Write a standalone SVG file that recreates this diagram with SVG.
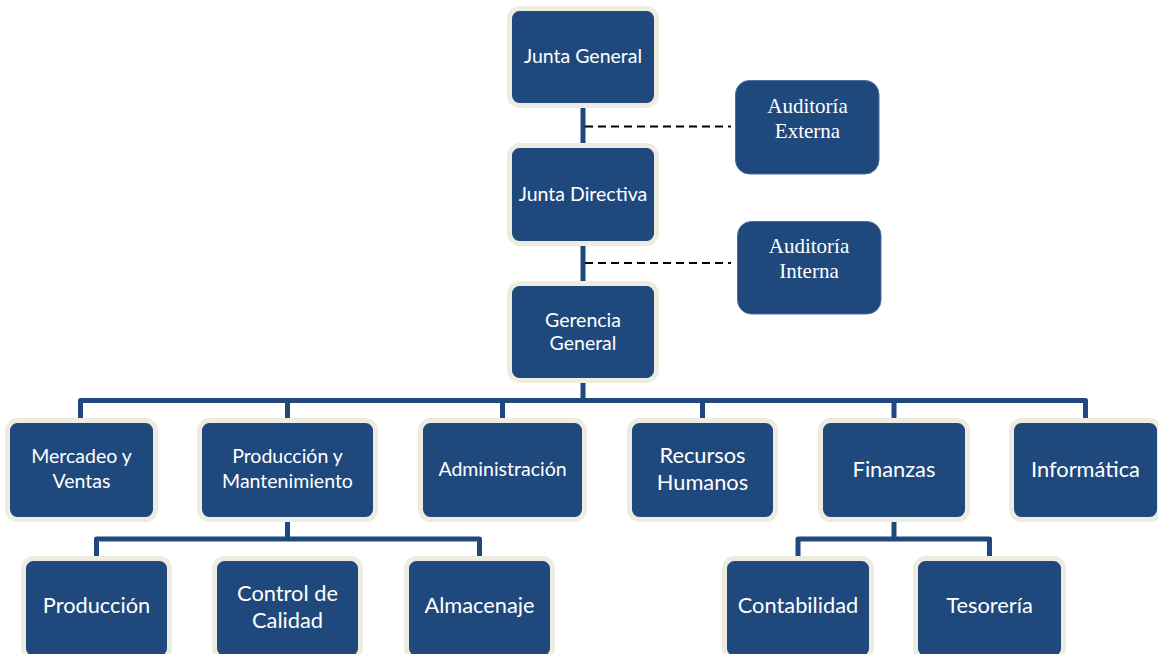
<svg xmlns="http://www.w3.org/2000/svg" width="1158" height="654" viewBox="0 0 1158 654">
<style>
.box{fill:#1F497D;stroke:#EEECE1;stroke-width:5}
.aud{fill:#1F497D;stroke:#4A6E9A;stroke-width:1}
.t{font-family:Lato,"Open Sans",sans-serif;fill:#FFFFFF;text-anchor:middle;font-size:19.5px}
.tl{font-size:21.8px}
.ts{font-family:"Liberation Serif","Times New Roman",serif;fill:#FFFFFF;text-anchor:middle;font-size:21px}
.c{fill:none;stroke:#1F497D;stroke-width:5;stroke-linejoin:round}
.d{fill:none;stroke:#000000;stroke-width:2;stroke-dasharray:8 5}
</style>
<rect width="1158" height="654" fill="#FFFFFF"/>
<g id="connectors">
<path class="c" d="M583,100 V150"/>
<path class="c" d="M583,238 V290"/>
<path class="c" d="M583,378 V401"/>
<path class="c" d="M80.5,420 V400.5 H1085.5 V420"/>
<path class="c" d="M287.5,400.5 V420 M502.5,400.5 V420 M702.5,400.5 V420 M894,400.5 V420"/>
<path class="c" d="M287.5,515 V539"/>
<path class="c" d="M96.5,559 V539 H479.5 V559"/>
<path class="c" d="M894,515 V539"/>
<path class="c" d="M798,559 V539 H989.5 V559"/>
<path class="d" d="M585,126.5 H731"/>
<path class="d" d="M585,263 H731"/>
</g>
<g id="junta-general">
<rect class="box" x="509.5" y="8.5" width="147" height="97" rx="10"/>
<text class="t" x="583" y="63">Junta General</text>
</g>
<g id="auditoria-externa">
<rect class="aud" x="735.5" y="80.5" width="143.5" height="93.5" rx="14"/>
<text class="ts" x="807.5" y="113">Auditoría</text>
<text class="ts" x="807.5" y="138">Externa</text>
</g>
<g id="junta-directiva">
<rect class="box" x="509.5" y="145.5" width="147" height="98" rx="10"/>
<text class="t" x="583" y="201">Junta Directiva</text>
</g>
<g id="auditoria-interna">
<rect class="aud" x="737.5" y="221.5" width="143.5" height="92.5" rx="14"/>
<text class="ts" x="809" y="253">Auditoría</text>
<text class="ts" x="809" y="278">Interna</text>
</g>
<g id="gerencia-general">
<rect class="box" x="509.5" y="283.5" width="147" height="97" rx="10"/>
<text class="t" x="583" y="327">Gerencia</text>
<text class="t" x="583" y="350">General</text>
</g>
<g id="mercadeo">
<rect class="box" x="7.5" y="420.5" width="148" height="99" rx="10"/>
<text class="t" x="81.5" y="463">Mercadeo y</text>
<text class="t" x="81.5" y="488">Ventas</text>
</g>
<g id="produccion-mantenimiento">
<rect class="box" x="199.5" y="420.5" width="176" height="99" rx="10"/>
<text class="t" x="287.5" y="463">Producción y</text>
<text class="t" x="287.5" y="488">Mantenimiento</text>
</g>
<g id="administracion">
<rect class="box" x="420.5" y="420.5" width="164" height="99" rx="10"/>
<text class="t" x="502.5" y="476">Administración</text>
</g>
<g id="recursos-humanos">
<rect class="box" x="629.5" y="420.5" width="146" height="99" rx="10"/>
<text class="t tl" x="702.5" y="463">Recursos</text>
<text class="t tl" x="702.5" y="490">Humanos</text>
</g>
<g id="finanzas">
<rect class="box" x="820.5" y="420.5" width="147" height="99" rx="10"/>
<text class="t tl" x="894" y="477">Finanzas</text>
</g>
<g id="informatica">
<rect class="box" x="1011.5" y="420.5" width="148" height="99" rx="10"/>
<text class="t tl" x="1085.5" y="477">Informática</text>
</g>
<g id="produccion">
<rect class="box" x="23.5" y="558.5" width="146" height="100" rx="10"/>
<text class="t tl" x="96.5" y="613">Producción</text>
</g>
<g id="control-calidad">
<rect class="box" x="214.5" y="558.5" width="146" height="100" rx="10"/>
<text class="t tl" x="287.5" y="601">Control de</text>
<text class="t tl" x="287.5" y="628">Calidad</text>
</g>
<g id="almacenaje">
<rect class="box" x="406.5" y="558.5" width="146" height="100" rx="10"/>
<text class="t tl" x="479.5" y="613">Almacenaje</text>
</g>
<g id="contabilidad">
<rect class="box" x="724.5" y="558.5" width="147" height="100" rx="10"/>
<text class="t tl" x="798" y="613">Contabilidad</text>
</g>
<g id="tesoreria">
<rect class="box" x="915.5" y="558.5" width="148" height="100" rx="10"/>
<text class="t tl" x="989.5" y="613">Tesorería</text>
</g>
</svg>
